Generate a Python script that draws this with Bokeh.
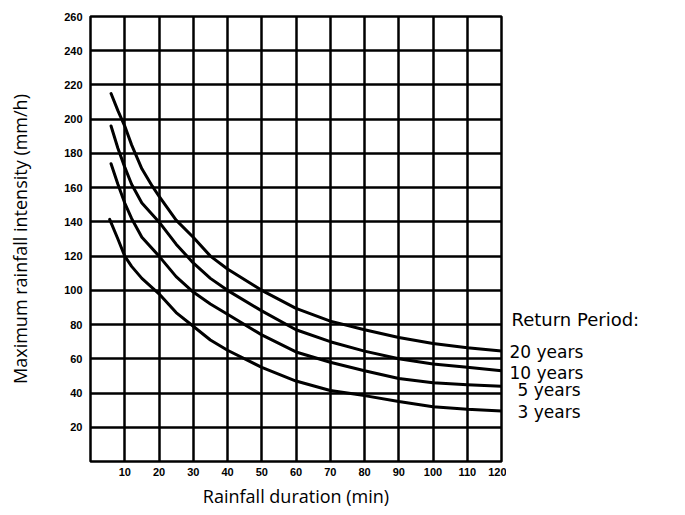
from bokeh.plotting import figure
from bokeh.models import Range1d, FixedTicker
from bokeh.layouts import row
from bokeh.core.properties import value
from bokeh.embed import file_html
from bokeh.resources import INLINE

# ---- data ----
dur_20 = [6, 8, 10, 12, 15, 18, 20, 25, 30, 35, 40, 50, 60, 70, 80, 90, 100, 110, 120]
int_20 = [215, 205, 196, 185, 171, 161, 155, 141, 131, 120, 112.5, 100, 89.5, 82, 77, 72.5, 69, 66.5, 64.5]

dur_10 = [6, 8, 10, 12, 15, 20, 25, 30, 35, 40, 50, 60, 70, 80, 90, 100, 110, 120]
int_10 = [196, 183, 172, 162, 151, 140, 127, 116, 107, 100, 88, 77, 70, 64.5, 60, 57, 55, 53]

dur_5 = [6, 8, 10, 12, 15, 20, 25, 30, 35, 40, 50, 60, 70, 80, 90, 100, 110, 120]
int_5 = [174, 162, 151, 142, 131, 120, 108, 99, 92, 86, 74, 64, 58, 53, 48.5, 46, 44.8, 44]

dur_3 = [5.6, 8, 10, 12, 15, 20, 25, 30, 35, 40, 50, 60, 70, 80, 90, 100, 110, 120]
int_3 = [141.5, 130, 120, 114, 107, 98, 87, 79, 71, 65, 55, 47, 41.5, 38.5, 35, 32, 30.5, 29.5]

x_ticks = [10, 20, 30, 40, 50, 60, 70, 80, 90, 100, 110, 120]
y_ticks = [20, 40, 60, 80, 100, 120, 140, 160, 180, 200, 220, 240, 260]

legend_title = "Return Period:"
legend_labels = ["20 years", "10 years", "5 years", "3 years"]
legend_label_levels = [63.7, 52, 41.5, 29.2]   # intensity level next to each label
legend_title_level = 83

TOP = 16
FRAME_H = 445

# ---- main chart ----
p = figure(frame_width=411, frame_height=FRAME_H, output_backend="svg", toolbar_location=None,
           x_range=Range1d(0, 120), y_range=Range1d(0, 260),
           min_border_left=90, min_border_right=5, min_border_top=TOP,
           min_border_bottom=45)
p.background_fill_color = "white"
p.border_fill_color = "white"
p.outline_line_color = "black"
p.outline_line_width = 2.5

p.xaxis.ticker = FixedTicker(ticks=x_ticks)
p.yaxis.ticker = FixedTicker(ticks=y_ticks)
p.xgrid.ticker = FixedTicker(ticks=x_ticks)
p.ygrid.ticker = FixedTicker(ticks=y_ticks)
p.grid.grid_line_color = "black"
p.grid.grid_line_width = 2.5
p.grid.grid_line_alpha = 1.0

p.axis.axis_line_color = None
p.axis.major_tick_line_color = None
p.axis.minor_tick_line_color = None
p.axis.major_label_text_font = "Liberation Sans"
p.axis.major_label_text_font_style = "bold"
p.axis.major_label_text_font_size = "11px"
p.axis.major_label_text_color = "black"
p.xaxis.major_label_standoff = 0
p.yaxis.major_label_standoff = 2

p.xaxis.axis_label = "Rainfall duration (min)"
p.yaxis.axis_label = "Maximum rainfall intensity (mm/h)"
p.axis.axis_label_text_font = "Open Sans"
p.axis.axis_label_text_font_style = "normal"
p.axis.axis_label_text_font_size = "18px"
p.axis.axis_label_text_color = "black"
p.xaxis.axis_label_standoff = 5
p.yaxis.axis_label_standoff = 29

for xs, ys in [(dur_20, int_20), (dur_10, int_10), (dur_5, int_5), (dur_3, int_3)]:
    p.line(xs, ys, line_color="black", line_width=3, line_join="round", line_cap="round")

# ---- side panel with the return-period notes, sharing the y scale ----
q = figure(frame_width=163, frame_height=FRAME_H, output_backend="svg", toolbar_location=None,
           x_range=Range1d(0, 163), y_range=p.y_range,
           x_axis_location=None, y_axis_location=None,
           min_border_left=0, min_border_right=0, min_border_top=TOP, min_border_bottom=45)
q.grid.visible = False
q.outline_line_color = None
q.background_fill_color = "white"
q.border_fill_color = "white"

lab_font = value("DejaVu Sans")
q.text(x=[5], y=[legend_title_level], text=[legend_title], text_font=lab_font,
       text_font_size="18px", text_baseline="middle", text_color="black")
q.text(x=[3, 3, 11, 11], y=legend_label_levels, text=legend_labels, text_font=lab_font,
       text_font_size="17px", text_baseline="middle", text_color="black")

layout = row(p, q)
open("out.html", "w").write(file_html(layout, INLINE))
